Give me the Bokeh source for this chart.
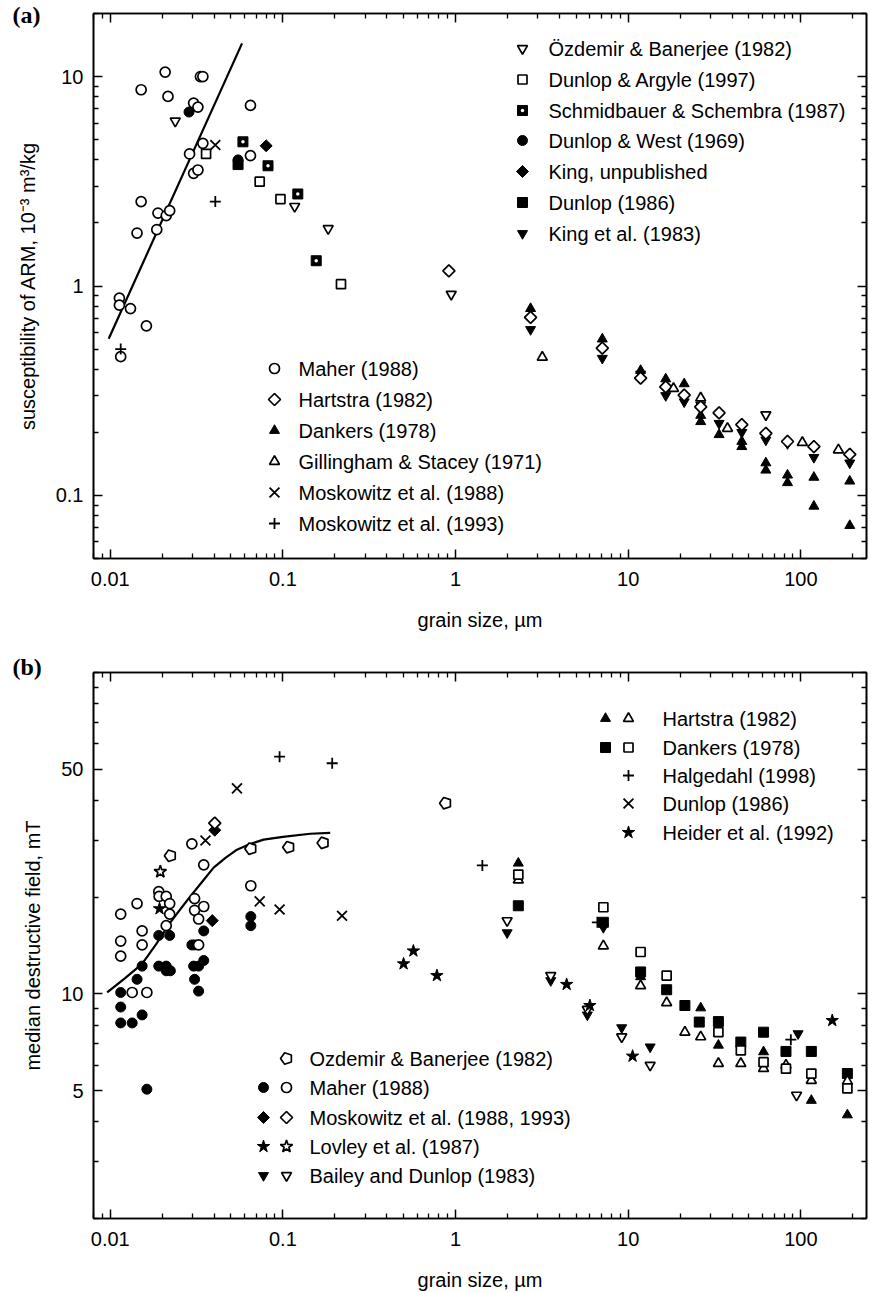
import math
from bokeh.plotting import figure
from bokeh.models import FixedTicker, LogAxis, CustomJSTickFormatter, Title
from bokeh.layouts import column
from bokeh.embed import file_html
from bokeh.resources import INLINE
from bokeh.core.properties import value

# ======================= DATA: panel (a) =======================
a_maher_x = [0.0208, 0.0151, 0.0216, 0.0333, 0.0344, 0.0304, 0.0322, 0.0649, 0.0344, 0.0288, 0.0649,
             0.0304, 0.0322, 0.0151, 0.0189, 0.0211, 0.0221, 0.0143, 0.0186, 0.0113, 0.0113, 0.0131,
             0.0162, 0.0115]
a_maher_y = [10.5, 8.65, 8.04, 10.0, 10.0, 7.47, 7.15, 7.28, 4.8, 4.27, 4.19,
             3.45, 3.58, 2.53, 2.23, 2.17, 2.29, 1.79, 1.86, 0.875, 0.81, 0.78,
             0.645, 0.46]
a_ozdemir_x = [0.0238, 0.117, 0.183, 0.944, 62.7]
a_ozdemir_y = [6.13, 2.4, 1.88, 0.914, 0.243]
a_argyle_x = [0.0359, 0.0734, 0.0968, 0.217]
a_argyle_y = [4.27, 3.15, 2.6, 1.02]
a_schmid_x = [0.0587, 0.082, 0.122, 0.156]
a_schmid_y = [4.88, 3.75, 2.75, 1.32]
a_west_x = [0.0286, 0.055]
a_west_y = [6.77, 4.0]
a_kingu_x = [0.08]
a_kingu_y = [4.67]
a_dunlop86_x = [0.055]
a_dunlop86_y = [3.8]
a_king83_x = [2.72, 7.08, 11.8, 16.5, 21.1, 26.3, 33.6, 45.5, 62.7, 83.7, 119, 192]
a_king83_y = [0.62, 0.452, 0.38, 0.30, 0.28, 0.27, 0.221, 0.20, 0.184, 0.177, 0.152, 0.143]
a_hartstra_x = [0.915, 2.72, 7.08, 11.8, 16.5, 21.1, 26.3, 33.6, 45.5, 62.7, 83.7, 119, 192]
a_hartstra_y = [1.18, 0.708, 0.505, 0.363, 0.33, 0.301, 0.265, 0.248, 0.218, 0.198, 0.181, 0.171, 0.157]
a_dankers_x = [2.72, 7.08, 11.8, 16.5, 21.1, 26.3, 26.3, 33.6, 45.5, 45.5, 62.7, 62.7, 83.7, 83.7,
               119, 119, 192, 192]
a_dankers_y = [0.78, 0.558, 0.395, 0.36, 0.341, 0.241, 0.225, 0.195, 0.181, 0.171, 0.143, 0.132,
               0.125, 0.115, 0.122, 0.0888, 0.117, 0.0718]
a_gill_x = [3.18, 18.3, 26.3, 37.6, 102, 165]
a_gill_y = [0.457, 0.324, 0.292, 0.209, 0.179, 0.165]
a_mosk88_x = [0.0406]
a_mosk88_y = [4.71]
a_mosk93_x = [0.0406, 0.0115]
a_mosk93_y = [2.53, 0.5]
a_fit_x = [0.0098, 0.058]
a_fit_y = [0.56, 14.4]

a_legend1 = ["Özdemir & Banerjee (1982)", "Dunlop & Argyle (1997)", "Schmidbauer & Schembra (1987)",
             "Dunlop & West (1969)", "King, unpublished", "Dunlop (1986)", "King et al. (1983)"]
a_legend2 = ["Maher (1988)", "Hartstra (1982)", "Dankers (1978)", "Gillingham & Stacey (1971)",
             "Moskowitz et al. (1988)", "Moskowitz et al. (1993)"]

# ======================= DATA: panel (b) =======================
b_ozdemir_x = [0.0223, 0.0652, 0.108, 0.171, 0.875]
b_ozdemir_y = [26.9, 28.3, 28.6, 29.5, 39.2]
b_maherF_x = [0.0191, 0.0221, 0.0153, 0.0143, 0.0191, 0.0211, 0.0211, 0.0223, 0.0115, 0.0115, 0.0115,
              0.0134, 0.0153, 0.0163, 0.0348, 0.0297, 0.0308, 0.0348, 0.0325, 0.0304, 0.0308, 0.0325,
              0.0652, 0.0652]
b_maherF_y = [15.2, 15.2, 12.2, 11.1, 12.2, 12.2, 11.8, 11.8, 10.1, 9.1, 8.12,
              8.12, 8.6, 5.05, 15.7, 14.2, 14.2, 12.7, 12.2, 12.2, 11.1, 10.2,
              17.4, 16.3]
b_maherO_x = [0.0297, 0.0348, 0.0652, 0.0115, 0.0143, 0.0191, 0.0192, 0.0211, 0.0221, 0.0221, 0.0211,
              0.0153, 0.0153, 0.0115, 0.0115, 0.0134, 0.0163, 0.0308, 0.0308, 0.0348, 0.0325, 0.0325]
b_maherO_y = [29.3, 25.2, 21.7, 17.7, 19.1, 20.8, 20.1, 20.1, 19.1, 17.7, 16.3,
              15.7, 14.2, 14.6, 13.1, 10.1, 10.1, 19.8, 18.2, 18.7, 17.1, 14.2]
b_moskF_x = [0.0403, 0.039]
b_moskF_y = [32.3, 16.9]
b_moskO_x = [0.0403]
b_moskO_y = [34.0]
b_lovleyF_x = [0.0193]
b_lovleyF_y = [18.4]
b_lovleyO_x = [0.0195]
b_lovleyO_y = [24.0]
b_baileyF_x = [1.99, 3.56, 5.8, 7.18, 9.17, 13.4, 96.4]
b_baileyF_y = [15.5, 11.0, 8.6, 16.1, 7.85, 6.84, 7.52]
b_baileyO_x = [1.99, 3.56, 5.8, 9.17, 13.4, 94.4]
b_baileyO_y = [16.9, 11.4, 8.95, 7.35, 6.0, 4.84]
b_hartF_x = [2.31, 11.8, 26.3, 33.3, 60.8, 115, 186]
b_hartF_y = [25.5, 11.3, 9.04, 6.92, 6.6, 4.66, 4.2]
b_hartO_x = [2.31, 7.18, 11.8, 16.7, 21.3, 26.3, 33.3, 44.9, 60.8, 82, 115, 186]
b_hartO_y = [22.6, 14.1, 10.6, 9.38, 7.6, 7.35, 6.07, 6.07, 5.86, 6.0, 5.38, 5.35]
b_dankF_x = [2.31, 7.18, 11.8, 16.7, 21.3, 25.8, 33.3, 44.9, 60.8, 82, 115, 186]
b_dankF_y = [18.8, 16.7, 11.7, 10.3, 9.2, 8.17, 8.2, 7.08, 7.6, 6.62, 6.62, 5.65]
b_dankO_x = [2.31, 7.18, 11.8, 16.7, 33.3, 44.9, 60.8, 82, 115, 186]
b_dankO_y = [23.5, 18.6, 13.5, 11.4, 7.6, 6.67, 6.13, 5.85, 5.65, 5.08]
b_halg_x = [0.0957, 0.193, 1.43, 6.63, 87.5]
b_halg_y = [54.7, 52.2, 25.1, 16.7, 7.2]
b_dunlop_x = [0.0356, 0.0542, 0.0734, 0.0957, 0.22]
b_dunlop_y = [30.0, 43.6, 19.4, 18.3, 17.5]
b_heider_x = [0.5, 0.57, 0.78, 4.4, 6.0, 10.6, 152]
b_heider_y = [12.4, 13.6, 11.4, 10.7, 9.2, 6.4, 8.26]
b_curve_x = [0.0096, 0.0122, 0.0153, 0.0185, 0.0223, 0.0254, 0.0291, 0.034, 0.0397, 0.0465, 0.0542,
             0.065, 0.0773, 0.1, 0.144, 0.188]
b_curve_y = [10.1, 11.2, 12.4, 14.3, 16.7, 18.3, 20.1, 22.3, 24.7, 26.5, 28.1,
             29.3, 30.2, 30.8, 31.5, 31.7]

b_legend1 = ["Hartstra (1982)", "Dankers (1978)", "Halgedahl (1998)", "Dunlop (1986)", "Heider et al. (1992)"]
b_legend2 = ["Ozdemir & Banerjee (1982)", "Maher (1988)", "Moskowitz et al. (1988, 1993)",
             "Lovley et al. (1987)", "Bailey and Dunlop (1983)"]

x_major = [0.01, 0.1, 1, 10, 100]
x_minor = [0.008, 0.009] + [k * 10.0 ** e for e in range(-2, 3) for k in range(2, 10) if k * 10.0 ** e <= 240]
a_y_major = [0.1, 1, 10]
a_y_minor = [0.05, 0.06, 0.07, 0.08, 0.09] + [k * 10.0 ** e for e in (-1, 0) for k in range(2, 10)] + [20]
b_y_major = [5, 10, 50]
b_y_minor = [2, 3, 4, 6, 7, 8, 9, 20, 30, 40, 60, 70, 80, 90, 100]

# ======================= LAYOUT =======================
W = 873
FL, FR = 93, 866
X0, X1 = 0.008, 240
A_H, A_TOP, A_BOT = 650, 13, 92
B_H, B_TOP, B_BOT = 643, 22, 75
A_Y0, A_Y1 = 0.05, 20
B_Y0, B_Y1 = 2, 100
FONT = "Liberation Sans"
FS = "20px"
K = "black"
DIAMOND_ANGLE = math.pi / 4


def lx(px):
    return 10 ** (math.log10(X0) + (px - FL) / (FR - FL) * math.log10(X1 / X0))


def ly(py, top, h, y0, y1):
    return 10 ** (math.log10(y1) - (py - top) / h * math.log10(y1 / y0))


def style_axis(ax, ticks, minor, labels):
    ax.ticker = FixedTicker(ticks=ticks, minor_ticks=minor)
    ax.major_tick_in = 9
    ax.major_tick_out = 0
    ax.minor_tick_in = 5
    ax.minor_tick_out = 0
    ax.axis_line_width = 1.6
    ax.major_tick_line_width = 1.5
    ax.minor_tick_line_width = 1.3
    ax.axis_line_color = K
    ax.major_tick_line_color = K
    ax.minor_tick_line_color = K
    ax.major_label_text_font = FONT
    ax.major_label_text_color = K
    ax.axis_label_text_font = FONT
    ax.axis_label_text_font_size = FS
    ax.axis_label_text_font_style = "normal"
    ax.axis_label_text_color = K
    if labels:
        ax.formatter = CustomJSTickFormatter(code="return tick.toString();")
        ax.major_label_text_font_size = FS
    else:
        ax.formatter = CustomJSTickFormatter(code="return '';")
        ax.major_label_text_font_size = "1px"
        ax.major_label_standoff = 0


def make_panel(height, top, bottom, y0, y1, ymaj, ymin, ylabel):
    p = figure(width=W, height=height, x_axis_type="log", y_axis_type="log",
               x_range=(X0, X1), y_range=(y0, y1), output_backend="svg",
               toolbar_location=None, min_border_left=FL, min_border_right=W - FR,
               min_border_top=top, min_border_bottom=bottom)
    p.xgrid.visible = False
    p.ygrid.visible = False
    p.outline_line_color = K
    p.outline_line_width = 1.6
    style_axis(p.xaxis[0], x_major, x_minor, True)
    style_axis(p.yaxis[0], ymaj, ymin, True)
    p.xaxis[0].axis_label = "grain size, µm"
    p.xaxis[0].major_label_standoff = 13
    p.xaxis[0].axis_label_standoff = 20
    p.yaxis[0].axis_label = ylabel
    p.yaxis[0].major_label_standoff = 10
    p.yaxis[0].axis_label_standoff = 14
    ta = LogAxis()
    style_axis(ta, x_major, x_minor, False)
    p.add_layout(ta, "above")
    ra = LogAxis()
    style_axis(ra, ymaj, ymin, False)
    p.add_layout(ra, "right")
    return p


def panel_tag(p, text, standoff):
    p.add_layout(Title(text=text, align="left", offset=-81, standoff=standoff,
                       text_font="Liberation Serif", text_font_style="bold",
                       text_font_size="24px", text_color=K), "above")


def open_m(p, x, y, marker, size):
    if marker == "diamond":
        p.scatter(x, y, marker="square", angle=DIAMOND_ANGLE, size=8.5, fill_color="white",
                  line_color=K, line_width=1.7)
    else:
        p.scatter(x, y, marker=marker, size=size, fill_color="white", line_color=K, line_width=1.7)


def fill_m(p, x, y, marker, size):
    if marker == "diamond":
        p.scatter(x, y, marker="square", angle=DIAMOND_ANGLE, size=8.5, fill_color=K,
                  line_color=K, line_width=1.0)
    else:
        p.scatter(x, y, marker=marker, size=size, fill_color=K, line_color=K, line_width=1.0)


def schmid(p, x, y):
    p.scatter(x, y, marker="square", size=10, fill_color=K, line_color=K)
    p.scatter(x, y, marker="circle", size=3.5, fill_color="white", line_color=None)


def pentagon(p, x, y):
    try:
        p.ngon(x=x, y=y, radius=6, radius_units="screen", n=5, angle=math.pi / 2,
               fill_color="white", line_color=K, line_width=1.7)
    except Exception:
        p.scatter(x, y, marker="hex", size=11, fill_color="white", line_color=K, line_width=1.7)


def line_m(p, x, y, marker, size):
    p.scatter(x, y, marker=marker, size=size, line_color=K, line_width=1.8)


def texts(p, xs, ys, labels):
    p.text(x=xs, y=ys, text=labels, text_font=value(FONT), text_font_size=FS,
           text_baseline="middle", text_align="left", text_color=K)


XS, PS = 14, 11  # sizes of x and + markers

# ======================= PANEL (a) =======================
pa = make_panel(A_H, A_TOP, A_BOT, A_Y0, A_Y1, a_y_major, a_y_minor,
                "susceptibility of ARM, 10\u207b\u00b3 m\u00b3/kg")
A_FH = A_H - A_TOP - A_BOT
panel_tag(pa, "(a)", -28)

pa.line(a_fit_x, a_fit_y, line_color=K, line_width=2.2)
fill_m(pa, a_dankers_x, a_dankers_y, "triangle", 10)
fill_m(pa, a_king83_x, a_king83_y, "inverted_triangle", 10)
fill_m(pa, a_west_x, a_west_y, "circle", 10)
fill_m(pa, a_dunlop86_x, a_dunlop86_y, "square", 10)
fill_m(pa, a_kingu_x, a_kingu_y, "diamond", 14)
schmid(pa, a_schmid_x, a_schmid_y)
open_m(pa, a_maher_x, a_maher_y, "circle", 10)
open_m(pa, a_hartstra_x, a_hartstra_y, "diamond", 14)
open_m(pa, a_gill_x, a_gill_y, "triangle", 10)
open_m(pa, a_ozdemir_x, a_ozdemir_y, "inverted_triangle", 10)
open_m(pa, a_argyle_x, a_argyle_y, "square", 9)
line_m(pa, a_mosk88_x, a_mosk88_y, "x", XS)
line_m(pa, a_mosk93_x, a_mosk93_y, "cross", PS)

# legend (a) upper right
rows1 = [48, 79, 110, 140, 171, 202, 233]
mx1, tx1 = 522, 548
ry = [ly(r, A_TOP, A_FH, A_Y0, A_Y1) for r in rows1]
m1 = lx(mx1)
open_m(pa, [m1], [ry[0]], "inverted_triangle", 10)
open_m(pa, [m1], [ry[1]], "square", 9)
schmid(pa, [m1], [ry[2]])
fill_m(pa, [m1], [ry[3]], "circle", 10)
fill_m(pa, [m1], [ry[4]], "diamond", 14)
fill_m(pa, [m1], [ry[5]], "square", 10)
fill_m(pa, [m1], [ry[6]], "inverted_triangle", 10)
texts(pa, [lx(tx1)] * len(rows1), ry, a_legend1)

# legend (a) lower left
rows2 = [368, 399, 430, 461, 492, 523]
mx2, tx2 = 274, 298
ry2 = [ly(r, A_TOP, A_FH, A_Y0, A_Y1) for r in rows2]
m2 = lx(mx2)
open_m(pa, [m2], [ry2[0]], "circle", 10)
open_m(pa, [m2], [ry2[1]], "diamond", 14)
fill_m(pa, [m2], [ry2[2]], "triangle", 10)
open_m(pa, [m2], [ry2[3]], "triangle", 10)
line_m(pa, [m2], [ry2[4]], "x", XS)
line_m(pa, [m2], [ry2[5]], "cross", PS)
texts(pa, [lx(tx2)] * len(rows2), ry2, a_legend2)

# ======================= PANEL (b) =======================
pb = make_panel(B_H, B_TOP, B_BOT, B_Y0, B_Y1, b_y_major, b_y_minor, "median destructive field, mT")
B_FH = B_H - B_TOP - B_BOT
OFF = A_H
panel_tag(pb, "(b)", -14)

pb.line(b_curve_x, b_curve_y, line_color=K, line_width=2.2)
fill_m(pb, b_maherF_x, b_maherF_y, "circle", 10)
fill_m(pb, b_moskF_x, b_moskF_y, "diamond", 14)
fill_m(pb, b_lovleyF_x, b_lovleyF_y, "star", 13)
fill_m(pb, b_baileyF_x, b_baileyF_y, "inverted_triangle", 10)
fill_m(pb, b_hartF_x, b_hartF_y, "triangle", 10)
fill_m(pb, b_dankF_x, b_dankF_y, "square", 10)
open_m(pb, b_maherO_x, b_maherO_y, "circle", 10)
open_m(pb, b_moskO_x, b_moskO_y, "diamond", 14)
open_m(pb, b_lovleyO_x, b_lovleyO_y, "star", 13)
open_m(pb, b_baileyO_x, b_baileyO_y, "inverted_triangle", 10)
open_m(pb, b_hartO_x, b_hartO_y, "triangle", 10)
open_m(pb, b_dankO_x, b_dankO_y, "square", 9)
pentagon(pb, b_ozdemir_x, b_ozdemir_y)
line_m(pb, b_halg_x, b_halg_y, "cross", PS)
line_m(pb, b_dunlop_x, b_dunlop_y, "x", XS)
fill_m(pb, b_heider_x, b_heider_y, "star", 13)

# legend (b) upper right
rows3 = [718, 747, 775, 803, 832]
fx3, ox3, tx3 = 605, 628, 662
ry3 = [ly(r - OFF, B_TOP, B_FH, B_Y0, B_Y1) for r in rows3]
fill_m(pb, [lx(fx3)], [ry3[0]], "triangle", 10)
open_m(pb, [lx(ox3)], [ry3[0]], "triangle", 10)
fill_m(pb, [lx(fx3)], [ry3[1]], "square", 10)
open_m(pb, [lx(ox3)], [ry3[1]], "square", 9)
line_m(pb, [lx(ox3)], [ry3[2]], "cross", PS)
line_m(pb, [lx(ox3)], [ry3[3]], "x", XS)
fill_m(pb, [lx(ox3)], [ry3[4]], "star", 13)
texts(pb, [lx(tx3)] * len(rows3), ry3, b_legend1)

# legend (b) lower left
rows4 = [1058, 1087, 1117, 1146, 1175]
fx4, ox4, tx4 = 263, 286, 309
ry4 = [ly(r - OFF, B_TOP, B_FH, B_Y0, B_Y1) for r in rows4]
pentagon(pb, [lx(ox4)], [ry4[0]])
fill_m(pb, [lx(fx4)], [ry4[1]], "circle", 10)
open_m(pb, [lx(ox4)], [ry4[1]], "circle", 10)
fill_m(pb, [lx(fx4)], [ry4[2]], "diamond", 14)
open_m(pb, [lx(ox4)], [ry4[2]], "diamond", 14)
fill_m(pb, [lx(fx4)], [ry4[3]], "star", 13)
open_m(pb, [lx(ox4)], [ry4[3]], "star", 13)
fill_m(pb, [lx(fx4)], [ry4[4]], "inverted_triangle", 10)
open_m(pb, [lx(ox4)], [ry4[4]], "inverted_triangle", 10)
texts(pb, [lx(tx4)] * len(rows4), ry4, b_legend2)

layout = column(pa, pb, spacing=0)
open("out.html", "w").write(file_html(layout, INLINE))
